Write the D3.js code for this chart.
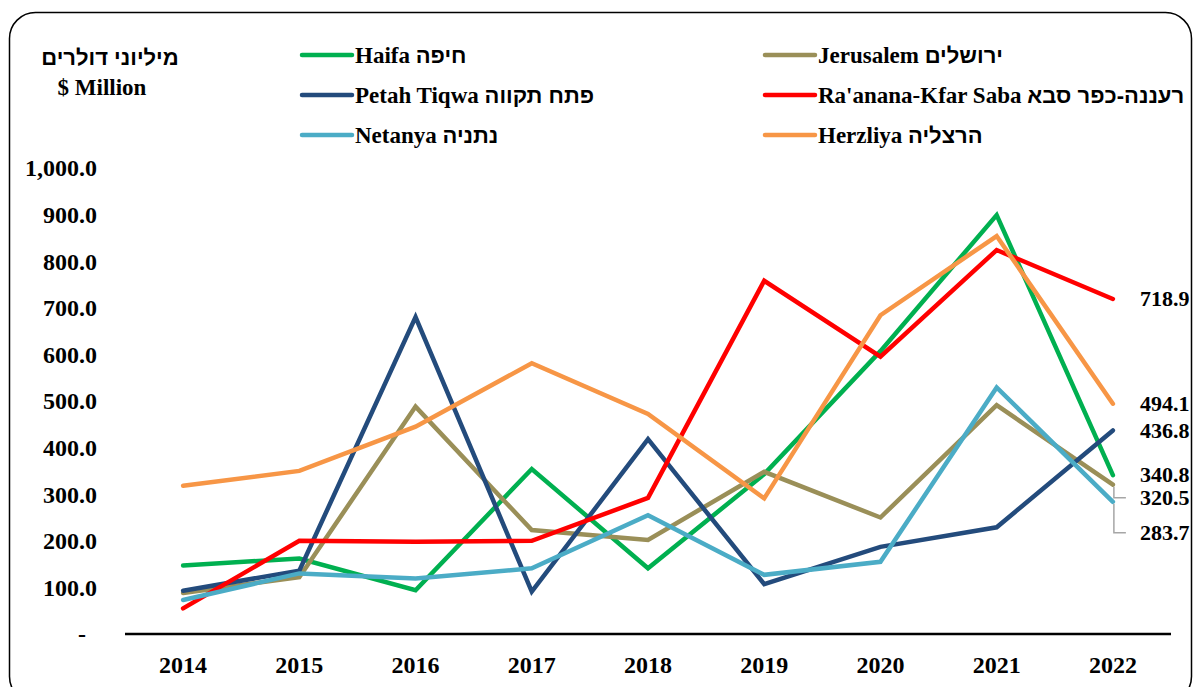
<!DOCTYPE html>
<html>
<head>
<meta charset="utf-8">
<style>
body { margin: 0; background: #fff; }
svg { display: block; }
text { font-family: "Liberation Serif", "Times New Roman", serif; font-weight: bold; fill: #000; }
.heb { font-family: "Liberation Sans", Arial, "DejaVu Sans", sans-serif; }
</style>
</head>
<body>
<div id="chart"></div>
<script src="https://cdn.jsdelivr.net/npm/d3@7"></script>
<script>
// data ($ million)
const years = ["2014", "2015", "2016", "2017", "2018", "2019", "2020", "2021", "2022"];
const haifa      = [147, 162, 94, 354, 141, 343, 607, 899, 340.8];
const jerusalem  = [88, 122, 488, 223, 202, 348, 250, 491, 320.5];
const petahTiqwa = [93, 136, 680, 91, 418, 107, 187, 229, 436.8];
const raanana    = [55, 200, 198, 200, 292, 758, 595, 824, 718.9];
const netanya    = [73, 130, 119, 141, 255, 127, 155, 529, 283.7];
const herzliya   = [318, 350, 445, 581, 472, 291, 684, 854, 494.1];
const yTicks = [0, 100, 200, 300, 400, 500, 600, 700, 800, 900, 1000];

const series = [
    {en: "Haifa", he: "חיפה", values: haifa, color: "#00b050"},
    {en: "Jerusalem", he: "ירושלים", values: jerusalem, color: "#9a8f58"},
    {en: "Petah Tiqwa", he: "פתח תקווה", values: petahTiqwa, color: "#234b7c"},
    {en: "Ra'anana-Kfar Saba", he: "רעננה-כפר סבא", values: raanana, color: "#ff0000"},
    {en: "Netanya", he: "נתניה", values: netanya, color: "#4bacc6"},
    {en: "Herzliya", he: "הרצליה", values: herzliya, color: "#f79646"}
];

const W = 1194, H = 687;
const svg = d3.select('#chart').append('svg')
    .attr('width', W).attr('height', H);

// frame
svg.append('rect')
    .attr('x', 9.5).attr('y', 12.5)
    .attr('width', 1182).attr('height', 690)
    .attr('rx', 26).attr('ry', 26)
    .attr('fill', 'none').attr('stroke', '#000').attr('stroke-width', 1.5);

const x = d3.scaleBand().domain(years).range([125, 1171]);
const y = d3.scaleLinear().domain([0, 1000]).range([634, 168]);
const cx = (d) => x(d) + x.bandwidth() / 2;

// y labels
svg.append('g').selectAll('text')
    .data(yTicks).enter().append('text')
    .attr('x', (d) => d === 0 ? 86 : 97)
    .attr('y', (d) => y(d))
    .attr('dy', '0.35em')
    .attr('text-anchor', 'end')
    .style('font-size', '24px')
    .text((d) => d === 0 ? '-' : d3.format(',.1f')(d));

// x axis line
svg.append('line')
    .attr('x1', x.range()[0]).attr('x2', x.range()[1])
    .attr('y1', y(0)).attr('y2', y(0))
    .attr('stroke', '#000').attr('stroke-width', 2.5);

svg.append('g').selectAll('text')
    .data(years).enter().append('text')
    .attr('x', cx)
    .attr('y', 673)
    .attr('text-anchor', 'middle')
    .style('font-size', '24px')
    .text((d) => d);

// lines
const line = d3.line()
    .x((d, i) => cx(years[i]))
    .y((d) => y(d));

svg.append('g').selectAll('path')
    .data(series).enter().append('path')
    .attr('d', (d) => line(d.values))
    .attr('fill', 'none')
    .attr('stroke', (d) => d.color)
    .attr('stroke-width', 4.5)
    .attr('stroke-linecap', 'round')
    .attr('stroke-linejoin', 'miter');

// end labels, two of them pushed down with leader lines
const shift = {"Jerusalem": 13, "Netanya": 31};
const lastX = cx(years[years.length - 1]);
series.forEach((s) => {
    const v = s.values[s.values.length - 1];
    const ly = y(v) + (shift[s.en] || 0);
    if (shift[s.en]) {
        svg.append('polyline')
            .attr('points', [[lastX + 1, y(v) + 2], [lastX + 1, ly], [lastX + 13, ly]].join(' '))
            .attr('fill', 'none').attr('stroke', '#a6a6a6').attr('stroke-width', 1.5);
    }
    svg.append('text')
        .attr('x', 1140).attr('y', ly)
        .attr('dy', '0.33em')
        .style('font-size', '22px')
        .text(v.toFixed(1));
});

// unit title
svg.append('text').attr('x', 110).attr('y', 65)
    .attr('class', 'heb')
    .attr('text-anchor', 'middle').style('font-size', '22px')
    .text('מיליוני דולרים');
svg.append('text').attr('x', 102).attr('y', 95)
    .attr('text-anchor', 'middle').style('font-size', '23px')
    .text('$ Million');

// legend, two columns
const legendPos = [[300, 55], [763, 55], [300, 95], [763, 95], [300, 135], [763, 135]];
const leg = svg.append('g').selectAll('g')
    .data(series).enter().append('g')
    .attr('transform', (d, i) => `translate(${legendPos[i][0]},${legendPos[i][1]})`);
leg.append('line')
    .attr('x1', 2).attr('x2', 52).attr('y1', 0).attr('y2', 0)
    .attr('stroke', (d) => d.color).attr('stroke-width', 4.5)
    .attr('stroke-linecap', 'round');
const lt = leg.append('text')
    .attr('x', 55).attr('y', 0).attr('dy', '0.35em')
    .style('font-size', '23px');
lt.append('tspan').text((d) => d.en + ' ');
lt.append('tspan').attr('class', 'heb').style('font-size', '22px').text((d) => d.he);
</script>
</body>
</html>
